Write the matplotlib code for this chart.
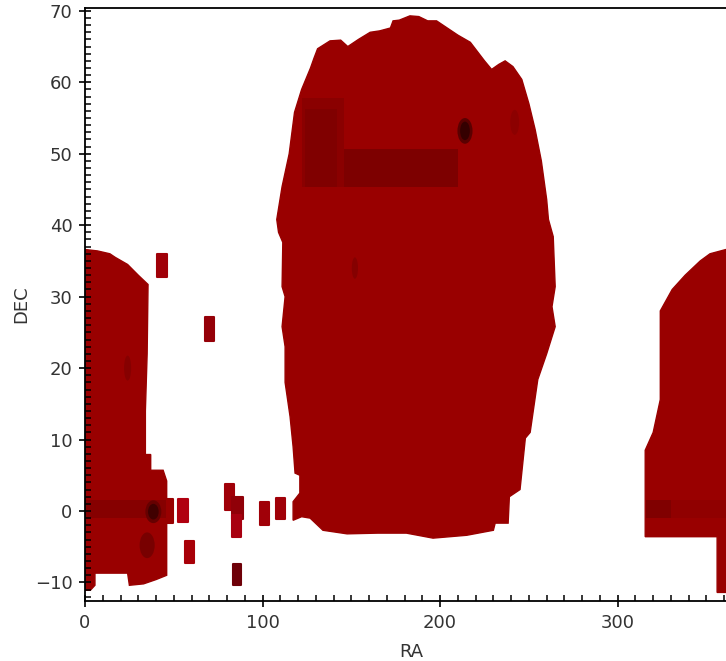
import matplotlib
matplotlib.use('Agg')
import matplotlib.pyplot as plt
from matplotlib.patches import Ellipse

main_ra = [183, 177, 173.5, 172, 166, 160.6, 154, 148, 144, 138, 131, 129, 127, 122, 118, 115, 111, 108, 109, 111.4,
           111, 112.7, 111, 112.7, 112.7, 115.5, 117.2, 118.3, 121, 121, 117.2, 117.2, 122, 126.8, 134, 147.6, 165,
           181, 196, 215, 230, 231, 238.3, 239, 245, 248, 250.7, 255, 260, 264.8, 263, 264.8, 263.7, 261, 260,
           257, 253.5, 250, 246, 241, 236.6, 233, 229, 225, 217, 210, 204, 198, 193, 188]
main_dec = [69.3, 68.7, 68.6, 67.6, 67.2, 67, 66, 65, 65.9, 65.8, 64.7, 63.4, 62, 59, 55.8, 50, 45.4, 40.8, 39, 37.6,
            31.4, 30, 25.8, 23, 18, 13.2, 9, 5.3, 5, 2.5, 1.3, -1.3, -0.8, -1, -2.7, -3.2, -3.1,
            -3.1, -3.8, -3.4, -2.7, -1.7, -1.7, 2, 3, 10.2, 11, 18.4, 22, 25.8, 28.6, 31.4, 38.4, 40.8, 43.6,
            49, 53.4, 57, 60.4, 62.2, 63, 62.5, 61.8, 63, 65.6, 66.6, 67.6, 68.6, 68.6, 69.2]

left_ra = [0, 7, 14, 17, 24, 30, 35.5, 35, 34, 34, 37, 37, 44, 46, 46, 46, 40, 33, 25, 24, 5.6, 5.6, 3, 0]
left_dec = [36.6, 36.4, 36, 35.5, 34.5, 33, 31.7, 22, 14, 7.9, 7.9, 5.7, 5.7, 4.2, 0, -9, -9.6, -10.2, -10.4, -8.7, -8.7, -10.4, -11.1, -11.1]

right_ra = [361, 352, 346.5, 338, 330.7, 324, 324, 324, 320, 315.5, 315.5, 315.5, 356, 356, 361]
right_dec = [36.6, 36, 35, 33, 31, 28, 22, 15.6, 11, 8.5, 0, -3.6, -3.6, -11.4, -11.4]

# small isolated fields
field_ra = [40.6, 67.6, 46.2, 52.4, 56.3, 78.9, 82.8, 82.8, 83.4, 98.6, 107.6]
field_ra_w = [5.6, 5.1, 3.4, 5.6, 5.1, 5.1, 6.2, 5.2, 4.5, 5.1, 5.1]
field_dec = [32.8, 23.8, -1.7, -1.5, -7.3, 0.1, -1.1, -3.6, -10.4, -2, -1.1]
field_dec_h = [3.1, 3.3, 3.4, 3.2, 3.1, 3.7, 3.1, 3.0, 3.0, 3.3, 2.9]
field_color = ['#a00008', '#950008', '#980000', '#b00010', '#a80008', '#a00008', '#900008', '#a80010', '#6e0008', '#a00008', '#a00008']

# darker overlap strips
strip_ra = [122, 122, 124, 0, 316, 330]
strip_ra_w = [88, 24, 18, 46, 14, 31]
strip_dec = [45.3, 45.3, 45.3, -1, -1, -1]
strip_dec_h = [5.3, 12.5, 11, 2.5, 2.5, 2.5]
strip_color = ['#7d0000', '#8a0000', '#800000', '#860000', '#800000', '#900000']

# darkest spots
spot_ra = [214, 38.5, 35, 24, 152, 242, 214, 38.5]
spot_dec = [53.2, -0.1, -4.8, 20, 34, 54.4, 53.2, -0.1]
spot_w = [8.5, 9, 8.5, 4, 3.5, 5, 5.5, 6]
spot_h = [3.6, 3.2, 3.6, 3.5, 3, 3.5, 2.6, 2.2]
spot_color = ['#5a0000', '#660000', '#780000', '#860000', '#850000', '#8c0000', '#350000', '#400000']

xticks = [0, 100, 200, 300]
yticks = [-10, 0, 10, 20, 30, 40, 50, 60, 70]

fig = plt.figure(figsize=(7.26, 6.61), dpi=100)
ax = fig.add_axes([85 / 726, 60 / 661, 641 / 726, 593 / 661])

ax.fill(main_ra, main_dec, color='#990000', lw=1)
ax.fill(left_ra, left_dec, color='#990000', lw=1)
ax.fill(right_ra, right_dec, color='#990000', lw=1)

for i in range(len(strip_ra)):
    ax.bar(strip_ra[i], strip_dec_h[i], strip_ra_w[i], bottom=strip_dec[i], align='edge',
           color=strip_color[i], lw=0)

for i in range(len(field_ra)):
    ax.bar(field_ra[i], field_dec_h[i], field_ra_w[i], bottom=field_dec[i], align='edge',
           color=field_color[i], edgecolor=field_color[i], lw=1.5, joinstyle='round')

for i in range(len(spot_ra)):
    ax.add_patch(Ellipse((spot_ra[i], spot_dec[i]), spot_w[i], spot_h[i], color=spot_color[i], lw=0, zorder=3))

ax.set_xlim(0, 361)
ax.set_ylim(-12.6, 70.4)
ax.set_xticks(xticks)
ax.set_yticks(yticks)
ax.set_xticks(range(10, 361, 10), minor=True)
ax.set_yticks(range(-12, 71), minor=True)
ax.tick_params(which='major', direction='inout', length=8, width=1.2, labelsize=13, labelcolor='#333333', pad=5)
ax.tick_params(which='minor', direction='in', length=4, width=1.1)
ax.spines['right'].set_visible(False)
for s in ['left', 'top', 'bottom']:
    ax.spines[s].set_linewidth(1.3)
    ax.spines[s].set_zorder(5)

ax.set_xlabel('RA', fontsize=13, color='#333333', labelpad=8, x=0.509)
ax.set_ylabel('DEC', fontsize=13, color='#333333', labelpad=3)

fig.savefig('out.png', dpi=100)
